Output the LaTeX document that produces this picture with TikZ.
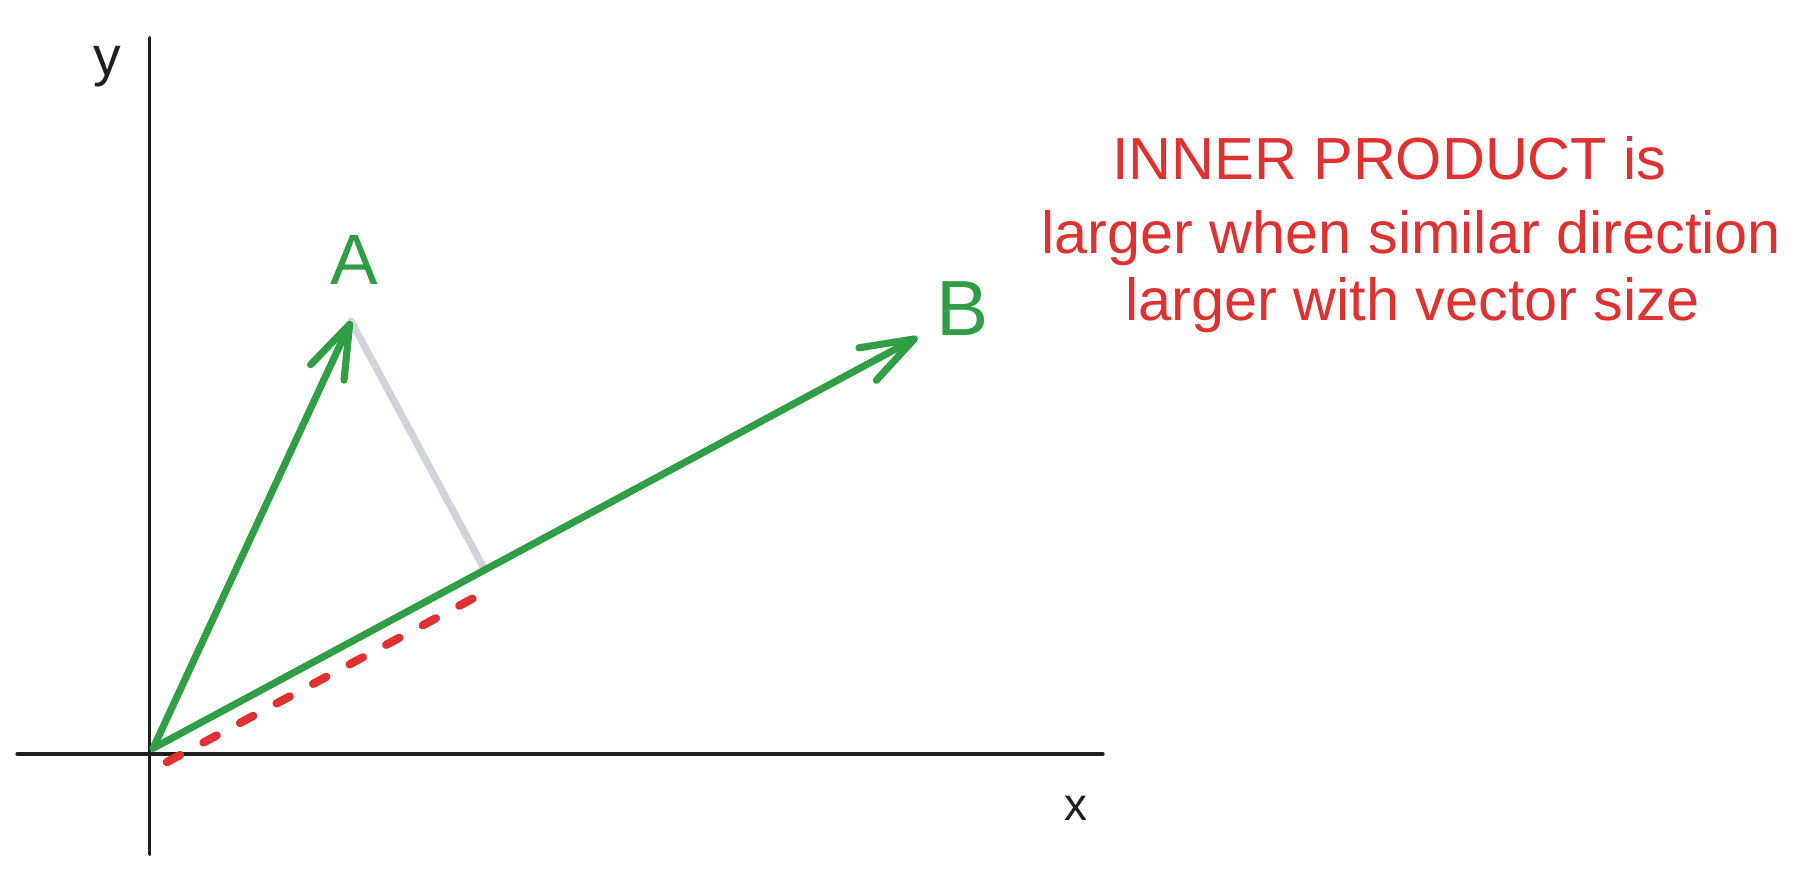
\documentclass[tikz,border=0pt]{standalone}
\usepackage{fontspec}
\setmainfont{Liberation Sans}
\usetikzlibrary{arrows.meta,calc}
\definecolor{xgreen}{HTML}{2F9E44}
\definecolor{xred}{HTML}{E03131}
\definecolor{xblack}{HTML}{1E1E1E}
\definecolor{xgray}{HTML}{CED4DA}
\begin{document}
\begin{tikzpicture}[x=0.5pt,y=-0.5pt, line cap=round, line join=round,
  axis/.style={xblack, line width=1.6pt},
  vec/.style={xgreen, line width=3.1pt, -{Straight Barb[length=23pt,width=16pt,round]}},
  proj/.style={xgray, line width=3.1pt},
  shadow/.style={xred, line width=3.6pt, dash pattern=on 6.5pt off 11.5pt},
  lbl/.style={inner sep=0pt},
  note/.style={inner sep=0pt, anchor=base, text=xred, font=\fontsize{25.8}{30}\selectfont}]
\useasboundingbox (0,0) rectangle (1568,759);
% axes
\coordinate (xl) at (15,655);
\coordinate (xr) at (958,655);
\coordinate (yt) at (130,33);
\coordinate (yb) at (130,742);
\draw[axis] (xl) -- (xr);
\draw[axis] (yt) -- (yb);
\node[lbl, text=xblack, font=\fontsize{24}{28}\selectfont] (ylab) at (93,58) {y};
\node[lbl, text=xblack, font=\fontsize{20}{24}\selectfont] (xlab) at (935,702) {x};
% vectors
\coordinate (O) at (133,650);
\coordinate (Atip) at (305,279);
\coordinate (Btip) at (797,293);
\coordinate (Foot) at ($(O)!(Atip)!(Btip)$);
\coordinate (R1) at ($(O)+(12,12)$);
\coordinate (R2) at ($(Foot)+(8,15)$);
\draw[shadow] (R1) -- (R2);
\draw[proj] (Atip) -- (Foot);
\draw[vec] (O) -- (Atip);
\draw[vec] (O) -- (Btip);
\node[lbl, text=xgreen, font=\fontsize{31}{34}\selectfont] (Alab) at (308,226) {A};
\node[lbl, text=xgreen, font=\fontsize{34}{38}\selectfont] (Blab) at (836,268) {B};
% note
\node[note] (t1) at (1207,155.5) {INNER PRODUCT is};
\node[note] (t2) at (1226,220) {larger when similar direction};
\node[note] (t3) at (1227,278) {larger with vector size};
\end{tikzpicture}
\end{document}
